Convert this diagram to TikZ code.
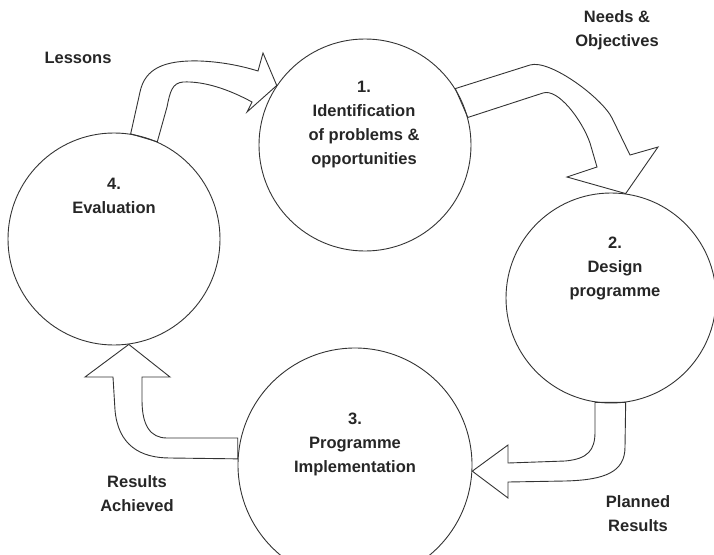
\documentclass[tikz,border=0pt]{standalone}
\usepackage{fontspec}
\setmainfont{Liberation Sans}
\begin{document}
\begin{tikzpicture}[x=1pt,y=-1pt,
  circ/.style={circle,draw=black!80,line width=0.9pt,inner sep=0pt},
  barrow/.style={draw=black!80,line width=0.9pt,line join=miter},
  txt/.style={align=center,font=\fontsize{16.5}{24}\selectfont\bfseries,text=black!85,inner sep=0pt}]
\useasboundingbox (0,0) rectangle (714,554);
% circles
\node[circ,minimum size=212pt] (c1) at (365,145) {};
\node[circ,minimum size=210pt] (c2) at (611,298) {};
\node[circ,minimum size=234pt] (c3) at (355,465) {};
\node[circ,minimum size=212pt] (c4) at (114,239) {};
% circle texts
\node[txt] (t1) at (364,125) {1.\\Identification\\of problems \&\\opportunities};
\node[txt] (t2) at (615,268) {2.\\Design\\programme};
\node[txt] (t3) at (355,444) {3.\\Programme\\Implementation};
\node[txt] (t4) at (114,196) {4.\\Evaluation};
% labels
\node[txt] (lA) at (78,58) {Lessons};
\node[txt] (lB) at (617,30) {Needs \&\\Objectives};
\node[txt] (lC) at (638,514) {Planned\\Results};
\node[txt] (lD) at (137,494) {Results\\Achieved};
% helper coordinates for flat arrow ends
\coordinate (fc) at (595,0);
\coordinate (fd) at (0,438);
% arrow 4 -> 1
\draw[barrow] (c4.81) -- (140,92) .. controls (145,68) and (165,60) .. (200,61)
  .. controls (225,62) and (245,67) .. (258,71) -- (263,53) -- (c1.146)
  -- (247,112) -- (252,102) .. controls (230,90) and (205,81) .. (183,82)
  .. controls (172,83) and (170,92) .. (167,107) -- (c4.66) -- cycle;
% arrow 1 -> 2
\draw[barrow] (c1.32) -- (530,65) .. controls (550,59) and (602,98) .. (612,118)
  -- (630,155) -- (658,147) -- (c2.82) -- (567,177) -- (597,167) -- (590,143)
  .. controls (582,120) and (558,88) .. (543,93) -- (c1.15) -- cycle;
% arrow 2 -> 3
\draw[barrow] (c2.278) -- (625,447) .. controls (625,472) and (605,480) .. (565,481)
  -- (508,482) -- (508,498) -- (c3.-3) -- (508,445) -- (508,463) -- (565,461)
  .. controls (588,459) and (595,450) .. (595,432) -- (c2.278 -| fc) -- cycle;
% arrow 3 -> 4
\draw[barrow] (c3.177 |- fd) -- (167,438) .. controls (150,438) and (142,425) .. (142,400)
  -- (142,377) -- (170,377) -- (c4.278) -- (85,377) -- (113,377) -- (115,410)
  .. controls (118,445) and (140,458) .. (170,458) -- (c3.177) -- cycle;
\end{tikzpicture}
\end{document}
